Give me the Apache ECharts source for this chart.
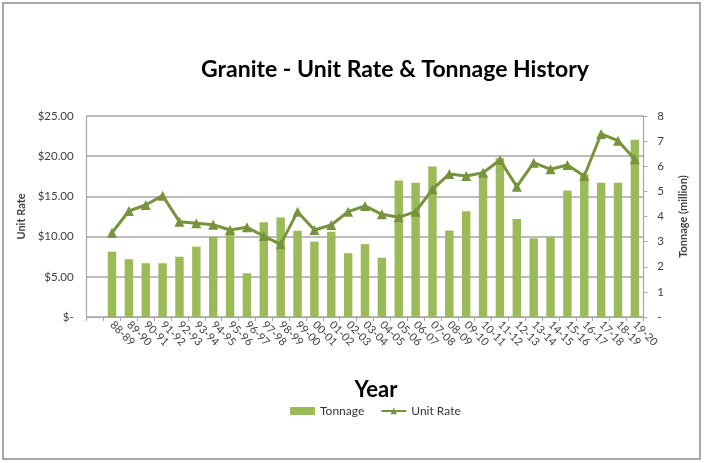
<!DOCTYPE html>
<html>
<head>
<meta charset="utf-8">
<script src="https://cdn.jsdelivr.net/npm/echarts@6/dist/echarts.min.js"></script>
<style>html,body{margin:0;padding:0;background:#fff}#c{width:704px;height:463px}</style>
</head>
<body>
<div id="c"></div>
<script>
const categories = ['', '88-89','89-90','90-91','91-92','92-93','93-94','94-95','95-96','96-97','97-98','98-99','99-00','00-01','01-02','02-03','03-04','04-05','05-06','06-07','07-08','08-09','09-10','10-11','11-12','12-13','13-14','14-15','15-16','16-17','17-18','18-19','19-20'];
const tonnage = [null, 2.60,2.30,2.14,2.14,2.40,2.80,3.20,3.40,1.74,3.77,3.96,3.43,3.00,3.39,2.54,2.90,2.36,5.43,5.34,5.99,3.44,4.21,5.66,6.32,3.90,3.13,3.20,5.03,5.66,5.34,5.34,7.05];
const unitRate = [null, 10.48,13.18,13.93,15.09,11.86,11.65,11.48,10.82,11.15,10.07,9.04,13.10,10.82,11.44,13.10,13.81,12.77,12.40,13.10,15.88,17.79,17.54,17.95,19.53,16.21,19.19,18.37,18.91,17.54,22.76,21.93,19.61];
const leftTicks = ['$-','$5.00','$10.00','$15.00','$20.00','$25.00'];
const rightTicks = ['-','1','2','3','4','5','6','7','8'];

const FONT = 'Lato, "Open Sans", sans-serif';
const chart = echarts.init(document.getElementById('c'));
chart.setOption({
  animation: false,
  textStyle: { fontFamily: FONT },
  graphic: [{
    type: 'rect', shape: { x: 3, y: 3, width: 697, height: 456 },
    style: { fill: 'none', stroke: '#8c8c8c', lineWidth: 1.5 }, silent: true
  }],
  title: [{
    text: 'Granite - Unit Rate & Tonnage History',
    left: 390, top: 53, textAlign: 'center',
    textStyle: { fontFamily: FONT, fontSize: 23, fontWeight: 'bold', color: '#000' }
  }, {
    text: 'Year', left: 371, top: 374, textAlign: 'center',
    textStyle: { fontFamily: FONT, fontSize: 22, fontWeight: 'bold', color: '#000' }
  }],
  legend: {
    bottom: 41, left: 285, itemGap: 16, itemWidth: 25, itemHeight: 8,
    textStyle: { fontFamily: FONT, fontSize: 12, color: '#333' },
    data: [{ name: 'Tonnage', icon: 'rect' }, { name: 'Unit Rate' }]
  },
  grid: { left: 86.7, right: 60.7, top: 116, bottom: 146, containLabel: false },
  xAxis: {
    type: 'category', data: categories, boundaryGap: true,
    axisLine: { lineStyle: { color: '#a6a6a6', width: 1.2 } },
    axisTick: { show: true, alignWithLabel: false, length: 4, lineStyle: { color: '#a6a6a6' } },
    axisLabel: { rotate: -45, interval: 0, fontSize: 11, color: '#404040', margin: 6 }
  },
  yAxis: [{
    type: 'value', min: 0, max: 25, interval: 5, position: 'left',
    name: 'Unit Rate', nameLocation: 'middle', nameGap: 48, nameRotate: 90,
    nameTextStyle: { fontSize: 11, fontWeight: 'bold', color: '#404040' },
    axisLine: { show: true, lineStyle: { color: '#a6a6a6', width: 1.2 } },
    axisTick: { show: false },
    splitLine: { lineStyle: { color: '#a6a6a6', width: 1.5 } },
    axisLabel: { fontSize: 11.5, color: '#404040', margin: 13,
      formatter: (v) => leftTicks[Math.round(v / 5)] }
  }, {
    type: 'value', min: 0, max: 8, interval: 1, position: 'right',
    name: 'Tonnage (million)', nameLocation: 'middle', nameGap: 35, nameRotate: 90,
    nameTextStyle: { fontSize: 11, fontWeight: 'bold', color: '#404040' },
    axisLine: { show: true, lineStyle: { color: '#a6a6a6', width: 1.2 } },
    axisTick: { show: true, inside: false, length: 4, lineStyle: { color: '#a6a6a6' } },
    splitLine: { show: false },
    axisLabel: { fontSize: 11.5, color: '#404040', margin: 14,
      formatter: (v) => rightTicks[Math.round(v)] }
  }],
  series: [{
    name: 'Tonnage', type: 'bar', yAxisIndex: 1, data: tonnage,
    barWidth: '50%', itemStyle: { color: '#9bbb59' }
  }, {
    name: 'Unit Rate', type: 'line', yAxisIndex: 0, data: unitRate,
    symbol: 'triangle', symbolSize: 10, showAllSymbol: true,
    lineStyle: { color: '#77933c', width: 3 },
    itemStyle: { color: '#77933c' }
  }]
});
</script>
</body>
</html>
